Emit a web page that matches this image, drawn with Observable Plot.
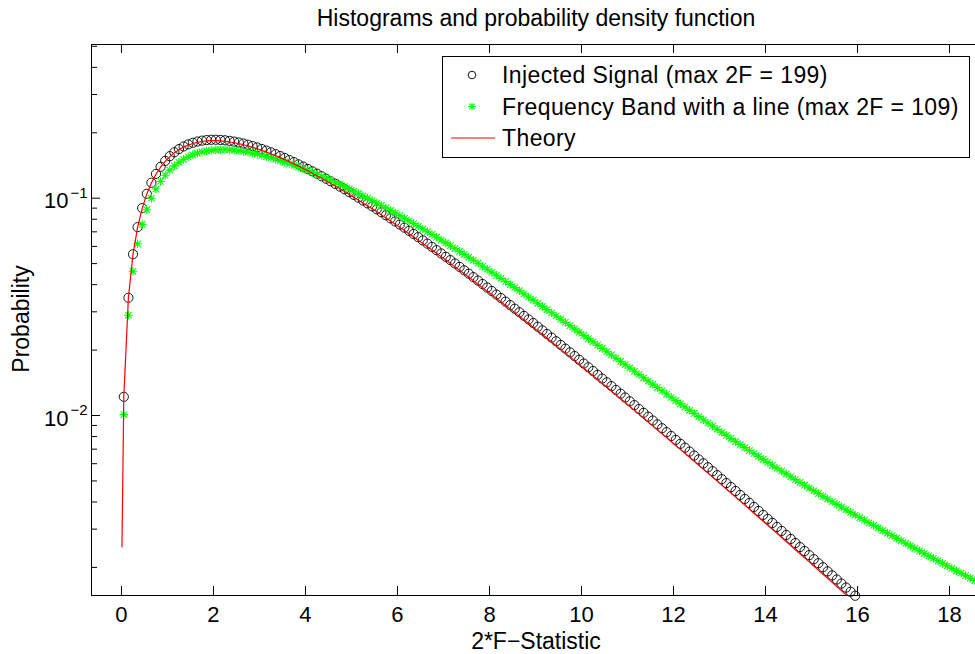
<!DOCTYPE html>
<html><head><meta charset="utf-8">
<script src="https://cdn.jsdelivr.net/npm/d3@7"></script>
<script src="https://cdn.jsdelivr.net/npm/@observablehq/plot@0.6"></script>
<style>
body{margin:0;background:#fff;}
#chart{width:975px;height:654px;}
svg text{font-family:'Liberation Sans',Arial,Helvetica,sans-serif;}
</style></head><body><div id="chart"></div>
<script>
// ---- data ----
const binX = [
0.05,0.15,0.25,0.35,0.45,0.55,0.65,0.75,0.85,0.95,
1.05,1.15,1.25,1.35,1.45,1.55,1.65,1.75,1.85,1.95,
2.05,2.15,2.25,2.35,2.45,2.55,2.65,2.75,2.85,2.95,
3.05,3.15,3.25,3.35,3.45,3.55,3.65,3.75,3.85,3.95,
4.05,4.15,4.25,4.35,4.45,4.55,4.65,4.75,4.85,4.95,
5.05,5.15,5.25,5.35,5.45,5.55,5.65,5.75,5.85,5.95,
6.05,6.15,6.25,6.35,6.45,6.55,6.65,6.75,6.85,6.95,
7.05,7.15,7.25,7.35,7.45,7.55,7.65,7.75,7.85,7.95,
8.05,8.15,8.25,8.35,8.45,8.55,8.65,8.75,8.85,8.95,
9.05,9.15,9.25,9.35,9.45,9.55,9.65,9.75,9.85,9.95,
10.05,10.15,10.25,10.35,10.45,10.55,10.65,10.75,10.85,10.95,
11.05,11.15,11.25,11.35,11.45,11.55,11.65,11.75,11.85,11.95,
12.05,12.15,12.25,12.35,12.45,12.55,12.65,12.75,12.85,12.95,
13.05,13.15,13.25,13.35,13.45,13.55,13.65,13.75,13.85,13.95,
14.05,14.15,14.25,14.35,14.45,14.55,14.65,14.75,14.85,14.95,
15.05,15.15,15.25,15.35,15.45,15.55,15.65,15.75,15.85,15.95,
16.05,16.15,16.25,16.35,16.45,16.55,16.65,16.75,16.85,16.95,
17.05,17.15,17.25,17.35,17.45,17.55,17.65,17.75,17.85,17.95,
18.05,18.15,18.25,18.35,18.45,18.55];

const injectedSignal = [
0.01219,0.03482,0.05522,0.07358,0.09004,0.10473,0.11779,0.12935,0.13952,0.14840,
0.15610,0.16271,0.16831,0.17300,0.17684,0.17991,0.18226,0.18397,0.18509,0.18567,
0.18577,0.18542,0.18467,0.18356,0.18213,0.18041,0.17843,0.17622,0.17380,0.17121,
0.16847,0.16559,0.16259,0.15950,0.15632,0.15309,0.14980,0.14647,0.14311,0.13973,
0.13635,0.13297,0.12959,0.12624,0.12290,0.11959,0.11632,0.11308,0.10988,0.10673,
0.10363,0.10057,0.09757,0.09463,0.09174,0.08891,0.08614,0.08343,0.08078,0.07819,
0.07567,0.07320,0.07080,0.06845,0.06617,0.06395,0.06179,0.05969,0.05765,0.05567,
0.05374,0.05187,0.05005,0.04829,0.04658,0.04493,0.04332,0.04177,0.04026,0.03881,
0.03740,0.03603,0.03471,0.03344,0.03220,0.03101,0.02986,0.02874,0.02767,0.02663,
0.02562,0.02465,0.02372,0.02282,0.02195,0.02111,0.02030,0.01952,0.01877,0.01804,
0.01734,0.01667,0.01602,0.01539,0.01479,0.01421,0.01365,0.01311,0.01260,0.01210,
0.01162,0.01116,0.01071,0.01029,0.009876,0.009481,0.009101,0.008736,0.008384,0.008046,
0.007722,0.007410,0.007110,0.006821,0.006544,0.006278,0.006022,0.005777,0.005541,0.005314,
0.005096,0.004887,0.004686,0.004493,0.004308,0.004130,0.003960,0.003796,0.003639,0.003488,
0.003343,0.003204,0.003071,0.002943,0.002820,0.002703,0.002590,0.002481,0.002378,0.002278,
0.002182,0.002091,0.002003,0.001918,0.001838,0.001760,0.001686,0.001615,0.001546,0.001481];

const frequencyBand = [
0.010098,0.028949,0.046105,0.061678,0.075777,0.088500,0.099944,0.110195,0.119338,0.127451,
0.134607,0.140876,0.146321,0.151005,0.154983,0.158310,0.161034,0.163204,0.164864,0.166054,
0.166812,0.167175,0.167176,0.166847,0.166217,0.165314,0.164163,0.162788,0.161210,0.159452,
0.157531,0.155466,0.153275,0.150970,0.148567,0.14630,0.14396,0.14155,0.13908,0.13656,
0.13400,0.13141,0.12879,0.12616,0.12352,0.12087,0.11822,0.11558,0.11294,0.11032,
0.10771,0.10511,0.10255,0.10002,0.09750,0.09503,0.09259,0.09018,0.08781,0.08544,
0.08312,0.08085,0.07861,0.07642,0.07428,0.07218,0.07012,0.06811,0.06613,0.06420,
0.06231,0.06046,0.05865,0.05689,0.05516,0.05347,0.05183,0.05022,0.04865,0.04712,
0.04562,0.04417,0.04276,0.04139,0.04005,0.03876,0.03751,0.03629,0.03510,0.03396,
0.03284,0.03176,0.03071,0.02969,0.02870,0.02774,0.02681,0.02591,0.02504,0.02419,
0.023370,0.022577,0.021811,0.021071,0.020356,0.019665,0.018997,0.018352,0.017729,0.017127,
0.016546,0.015984,0.015441,0.014917,0.014411,0.013922,0.013449,0.012992,0.012551,0.012125,
0.011713,0.011317,0.010937,0.010571,0.010219,0.0098807,0.0095552,0.0092421,0.0089405,0.0086504,
0.0083712,0.0081025,0.0078436,0.0075942,0.0073542,0.0071231,0.0069004,0.0066857,0.0064788,0.0062795,
0.0060873,0.0059019,0.0057232,0.0055510,0.0053849,0.0052246,0.0050700,0.0049208,0.0047768,0.0046378,
0.0045036,0.0043741,0.0042490,0.0041282,0.0040115,0.0038988,0.0037899,0.0036847,0.0035830,0.0034848,
0.0033897,0.0032976,0.0032082,0.0031215,0.0030372,0.0029555,0.0028763,0.0027994,0.0027247,0.0026521,
0.0025818,0.0025135,0.0024472,0.0023828,0.0023202,0.0022595,0.0022005,0.0021432,0.0020876,0.0020335,
0.0019810,0.0019300,0.0018805,0.0018323,0.0017855,0.0017400];

const theoryStartX = [0.01];
const theoryStartY = [0.0024876];
const theoryY = [
0.012191,0.034790,0.055156,0.073452,0.089833,0.104441,0.117411,0.128867,0.138926,0.147698,
0.155284,0.161778,0.167269,0.171840,0.175568,0.178523,0.180772,0.182377,0.183396,0.183882,
0.183883,0.183447,0.182617,0.181431,0.179926,0.178137,0.176094,0.173827,0.171362,0.168724,
0.165936,0.163018,0.159991,0.156871,0.153674,0.150417,0.147111,0.143770,0.140406,0.137027,
0.133644,0.130264,0.126897,0.123549,0.120225,0.116932,0.113673,0.110454,0.107279,0.104151,
0.101074,0.098048,0.095077,0.092163,0.089307,0.086510,0.083773,0.081098,0.078485,0.075933,
0.073444,0.071017,0.068651,0.066348,0.064106,0.061925,0.059804,0.057743,0.055741,0.053796,
0.051908,0.050077,0.048301,0.046579,0.044910,0.043293,0.041727,0.040211,0.038743,0.037323,
0.035951,0.034622,0.033338,0.032096,0.030897,0.029738,0.028618,0.027537,0.026494,0.025486,
0.024513,0.023576,0.022671,0.021798,0.020957,0.020146,0.019364,0.018611,0.017884,0.017185,
0.016511,0.015862,0.015237,0.014635,0.014056,0.013498,0.012962,0.012446,0.011949,0.011471,
0.011011,0.010569,0.010144,0.0097346,0.0093414,0.0089634,0.0086001,0.0082509,0.0079153,0.0075928,
0.0072830,0.0069853,0.0066993,0.0064246,0.0061608,0.0059074,0.0056640,0.0054304,0.0052061,0.0049907,
0.0047837,0.0045853,0.0043948,0.0042121,0.0040366,0.0038683,0.0037068,0.0035519,0.0034033,0.0032606,
0.0031239,0.0029927,0.0028669,0.0027462,0.0026304,0.0025195,0.0024131,0.0023110,0.0022132,0.0021195,
0.0020296,0.0019434,0.0018608,0.0017817,0.0017059,0.0016332,0.0015635,0.0014967,0.0014328,0.0013715];

const xLim = [-0.652, 18.565];
const yLim = [0.001485, 0.5096];
const xTicks = [0, 2, 4, 6, 8, 10, 12, 14, 16, 18];
const yMajor = [0.1, 0.01];
const yExp = ["\u22121", "\u22122"];
const yMinor = [0.002,0.003,0.004,0.005,0.006,0.007,0.008,0.009,0.02,0.03,0.04,0.05,0.06,0.07,0.08,0.09,0.2,0.3,0.4,0.5];
const legendLabels = ["Injected Signal (max 2F = 199)", "Frequency Band with a line (max 2F = 109)", "Theory"];
const titleText = "Histograms and probability density function";
const xLabel = "2*F\u2212Statistic";
const yLabel = "Probability";

// ---- build ----
const circles = injectedSignal.map((y, i) => ({x: binX[i], y}));
const stars = frequencyBand.map((y, i) => ({x: binX[i], y}));
const theoryX = theoryStartX.concat(binX.slice(0, theoryY.length));
const theory = theoryStartY.concat(theoryY).map((y, i) => ({x: theoryX[i], y}));

const asterisk8 = {
  draw(ctx, size) {
    const r = Math.sqrt(size / Math.PI);
    const d = r * 0.75;
    ctx.moveTo(-r, 0); ctx.lineTo(r, 0);
    ctx.moveTo(0, -r); ctx.lineTo(0, r);
    ctx.moveTo(-d, -d); ctx.lineTo(d, d);
    ctx.moveTo(-d, d); ctx.lineTo(d, -d);
  }
};

const W = 975, H = 654, mL = 91, mR = 0, mT = 44, mB = 59;
const fw = W - mL - mR, fh = H - mT - mB;

const svg = Plot.plot({
  width: W, height: H,
  marginLeft: mL, marginRight: mR, marginTop: mT, marginBottom: mB,
  style: {fontFamily: "'Liberation Sans', Arial, sans-serif", fontSize: "22px", background: "#fff", color: "#000", overflow: "hidden"},
  x: {domain: xLim, axis: null},
  y: {type: "log", domain: yLim, axis: null},
  marks: [
    Plot.dot(circles, {x: "x", y: "y", r: 4.6, stroke: "#000", strokeWidth: 0.9, fill: "none"}),
    Plot.dot(stars, {x: "x", y: "y", r: 4.3, symbol: asterisk8, stroke: "#00ff00", strokeWidth: 1.1, clip: true}),
    Plot.line(theory, {x: "x", y: "y", stroke: "#ff0000", strokeWidth: 1.2, clip: true}),
    Plot.ruleX([xLim[0]], {stroke: "#000", strokeWidth: 1}),
    Plot.ruleY([yLim[0], yLim[1]], {stroke: "#000", strokeWidth: 1}),
    Plot.tickX(xTicks, {x: d => d, insetTop: fh - 9, stroke: "#000"}),
    Plot.tickX(xTicks, {x: d => d, insetBottom: fh - 9, stroke: "#000"}),
    Plot.tickY(yMajor, {y: d => d, insetRight: fw - 9, stroke: "#000"}),
    Plot.tickY(yMinor, {y: d => d, insetRight: fw - 6, stroke: "#000"}),
    Plot.text(xTicks, {x: d => d, text: d => String(d), frameAnchor: "bottom", lineAnchor: "top", dy: 11, fontSize: 22, fill: "#000"}),
    Plot.text(yMajor, {y: d => d, text: () => "10", frameAnchor: "left", textAnchor: "end", dx: -23, dy: 3, fontSize: 22, fill: "#000"}),
    Plot.text(yMajor, {y: d => d, text: (d, i) => yExp[i], frameAnchor: "left", textAnchor: "start", dx: -21, dy: -5, fontSize: 15, fill: "#000"})
  ]
});

const s = d3.select(svg);
s.append("text").attr("x", 536).attr("y", 26).attr("text-anchor", "middle")
  .style("font-size", "23px").attr("fill", "#000").text(titleText);
s.append("text").attr("x", 536).attr("y", 649).attr("text-anchor", "middle")
  .style("font-size", "23px").attr("fill", "#000").text(xLabel);
s.append("text").attr("transform", "translate(29,319) rotate(-90)").attr("text-anchor", "middle")
  .style("font-size", "23px").attr("fill", "#000").text(yLabel);

// legend
const lg = s.append("g");
lg.append("rect").attr("x", 442.5).attr("y", 56.5).attr("width", 527).attr("height", 101)
  .attr("fill", "#fff").attr("stroke", "#000").attr("stroke-width", 1);
const rows = [75, 106.5, 138];
lg.append("circle").attr("cx", 472).attr("cy", rows[0]).attr("r", 3.8)
  .attr("fill", "none").attr("stroke", "#000").attr("stroke-width", 0.9);
const sp = d3.path(); asterisk8.draw(sp, Math.PI * 3.8 * 3.8);
lg.append("path").attr("d", sp.toString()).attr("transform", `translate(472,${rows[1]})`)
  .attr("fill", "none").attr("stroke", "#00ff00").attr("stroke-width", 1.1);
lg.append("line").attr("x1", 451).attr("x2", 495).attr("y1", rows[2]).attr("y2", rows[2])
  .attr("stroke", "#ff0000").attr("stroke-width", 1.2);
legendLabels.forEach((t, i) => {
  lg.append("text").attr("x", 502).attr("y", rows[i] + 8).attr("text-anchor", "start")
    .style("font-size", "23px").style("letter-spacing", "0.4px").attr("fill", "#000").text(t);
});

document.getElementById("chart").appendChild(svg);
</script>
</body></html>
